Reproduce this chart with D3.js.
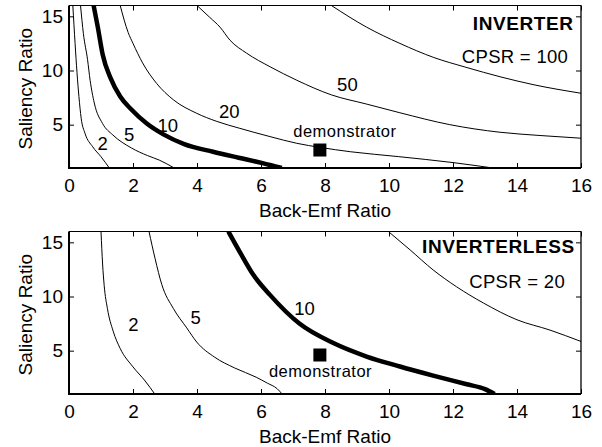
<!DOCTYPE html>
<html>
<head>
<meta charset="utf-8">
<script src="https://cdn.jsdelivr.net/npm/d3@7"></script>
<style>
  body { margin: 0; background: #fff; }
  svg { display: block; font-family: "Liberation Sans", Arial, Helvetica, sans-serif; }
  .axis text { font-size: 19px; fill: #000; }
  .axis line { stroke: #000; stroke-width: 1; }
  .axis path { display: none; }
  .curve { fill: none; stroke: #000; stroke-width: 1; }
  .curve.thick { stroke-width: 4.5; }
  .axis-title { font-size: 19px; text-anchor: middle; }
  .level { font-size: 18.5px; text-anchor: middle; }
  .mode { font-size: 19px; font-weight: bold; text-anchor: end; letter-spacing: 0.6px; }
  .cpsr { font-size: 18.5px; text-anchor: end; letter-spacing: 0.3px; }
  .demo-text { font-size: 16.5px; text-anchor: middle; letter-spacing: 0.5px; }
</style>
</head>
<body>
<svg width="602" height="447"></svg>
<script>
const w = 602, h = 447;
const plotL = 69, plotR = 581, plotT = 5.5, plotB = 168, shift = 226;

const xTicks = [0, 2, 4, 6, 8, 10, 12, 14, 16];
const yTicks = [5, 10, 15];

// contour levels (CPSR), the 10 line is drawn thick
const invLevels = ["2", "5", "10", "20", "50", "100"];
const lessLevels = ["2", "5", "10", "20"];

// INVERTER panel contours: [back-emf ratio, saliency ratio]
const inv2 = [[0.12,16],[0.19,12.5],[0.25,9.8],[0.31,7.6],[0.38,5.6],[0.5,4.2],[0.74,2.96],[1.0,2.04],[1.26,1.0]];
const inv5 = [[0.36,16],[0.45,13.4],[0.58,11],[0.66,9.1],[0.79,7.0],[1.05,5.1],[1.37,4.05],[1.95,2.85],[2.45,2.15],[2.82,1.73],[3.29,1.0]];
const inv10 = [[0.77,16],[0.9,14],[1.05,11.5],[1.3,9.3],[1.6,7.6],[1.95,6.4],[2.43,5.1],[2.95,4.1],[3.6,3.2],[4.5,2.5],[5.3,1.95],[6.05,1.45],[6.45,1.15],[6.65,1.0]];
const inv20 = [[1.6,16],[1.85,13.5],[2.0,12.5],[2.3,10.7],[2.74,8.8],[3.26,7.3],[3.99,6.05],[4.62,5.3],[5.34,4.66],[6.28,3.9],[7.12,3.28],[7.85,2.9],[8.8,2.5],[10.3,2.05],[12,1.5],[13.25,1.0]];
const inv50 = [[4.0,16],[4.4,14.9],[4.72,14.0],[5.03,12.8],[5.55,11.6],[6.28,10.35],[7.12,9.1],[8.2,7.75],[9.3,6.9],[10.34,6.1],[11.9,5.0],[13.47,4.3],[14.72,4.0],[16,3.75]];
const inv100 = [[8.2,16],[9.3,14.0],[10.34,12.5],[11.4,11.2],[12.4,10.3],[13.5,9.4],[14.5,8.7],[16,7.9]];

// INVERTERLESS panel contours
const less2 = [[1.0,16],[1.05,13],[1.1,11],[1.2,8.9],[1.38,6.8],[1.6,5.2],[2.0,3.5],[2.38,2.2],[2.68,1.0]];
const less5 = [[2.5,16],[2.69,13.5],[2.9,11.1],[3.26,8.9],[3.68,7.1],[3.99,5.8],[4.55,4.4],[5.18,3.4],[5.85,2.55],[6.2,2.0],[6.5,1.5],[6.66,1.0]];
const less10 = [[4.98,16],[5.34,14.1],[5.76,12.0],[6.28,10.15],[7.2,7.5],[8.26,5.7],[9.3,4.46],[10.34,3.54],[11.38,2.7],[12.43,1.9],[13.0,1.45],[13.3,1.0]];
const less20 = [[9.98,16],[10.66,14.3],[11.38,12.45],[12.11,10.9],[12.95,9.4],[14.0,7.85],[15.03,6.9],[16,5.85]];

// where the level numbers sit (data units)
const invLabelAt = [[1.05,3.24],[1.88,4.05],[3.09,4.92],[5.01,6.24],[8.70,8.71]];
const lessLabelAt = [[2.01,7.44],[3.96,8.02],[7.36,8.91]];

// demonstrator machine
const invDemo = [7.84, 2.66], invDemoText = [8.62, 3.83];
const lessDemo = [7.84, 4.6], lessDemoText = [7.86, 2.6];

// panel titles, anchored at their right end
const invTitles = [["INVERTER", 15.77, 13.74], ["CPSR = 100", 15.6, 10.72]];
const lessTitles = [["INVERTERLESS", 15.81, 13.99], ["CPSR = 20", 15.5, 10.76]];

const scaleX = d3.scaleLinear().domain([0, 16]).range([plotL, plotR]);
const scaleY = d3.scaleLinear().domain([1, 16]).range([plotB, plotT]);

const line = d3.line()
        .x(d => scaleX(d[0]))
        .y(d => scaleY(d[1]))
        .curve(d3.curveMonotoneX);

const svg = d3.select("svg");

drawPanel(0, "inv", [inv2, inv5, inv10, inv20, inv50, inv100], invLevels,
        invLabelAt, invDemo, invDemoText, invTitles);
drawPanel(shift, "less", [less2, less5, less10, less20], lessLevels,
        lessLabelAt, lessDemo, lessDemoText, lessTitles);

function drawPanel(dy, id, curves, levels, labelAt, demo, demoText, titles) {
    const g = svg.append("g").attr("transform", `translate(0,${dy})`);

    g.append("clipPath").attr("id", "clip-" + id)
        .append("rect")
        .attr("x", plotL).attr("y", plotT)
        .attr("width", plotR - plotL).attr("height", plotB - plotT);

    // ticks point inwards on all four sides
    g.append("g").attr("class", "axis")
        .attr("transform", `translate(0,${plotB})`)
        .call(d3.axisBottom(scaleX).tickValues(xTicks).tickSize(-5).tickPadding(11));
    g.append("g").attr("class", "axis")
        .attr("transform", `translate(0,${plotT})`)
        .call(d3.axisTop(scaleX).tickValues(xTicks).tickSize(-5).tickFormat(""));
    g.append("g").attr("class", "axis")
        .attr("transform", `translate(${plotL},0)`)
        .call(d3.axisLeft(scaleY).tickValues(yTicks).tickSize(-5).tickPadding(6));
    g.append("g").attr("class", "axis")
        .attr("transform", `translate(${plotR},0)`)
        .call(d3.axisRight(scaleY).tickValues(yTicks).tickSize(-5).tickFormat(""));

    // frame, left and bottom edge a bit heavier
    g.append("line").attr("x1", plotL).attr("x2", plotR).attr("y1", plotT).attr("y2", plotT)
        .attr("stroke", "#000").attr("stroke-width", 1);
    g.append("line").attr("x1", plotR).attr("x2", plotR).attr("y1", plotT).attr("y2", plotB)
        .attr("stroke", "#000").attr("stroke-width", 1.3);
    g.append("line").attr("x1", plotL).attr("x2", plotL).attr("y1", plotT).attr("y2", plotB + 1)
        .attr("stroke", "#000").attr("stroke-width", 2);
    g.append("line").attr("x1", plotL - 1).attr("x2", plotR).attr("y1", plotB).attr("y2", plotB)
        .attr("stroke", "#000").attr("stroke-width", 2);

    g.append("g").attr("clip-path", `url(#clip-${id})`)
        .selectAll("path.curve")
        .data(curves)
        .join("path")
        .attr("class", (d, i) => levels[i] === "10" ? "curve thick" : "curve")
        .attr("d", line);

    g.selectAll("text.level")
        .data(labelAt)
        .join("text").attr("class", "level")
        .attr("x", d => scaleX(d[0]))
        .attr("y", d => scaleY(d[1]))
        .attr("dy", "0.35em")
        .text((d, i) => levels[i]);

    g.append("rect")
        .attr("x", scaleX(demo[0]) - 6.5)
        .attr("y", scaleY(demo[1]) - 6.5)
        .attr("width", 13).attr("height", 13)
        .attr("fill", "#000");
    g.append("text").attr("class", "demo-text")
        .attr("x", scaleX(demoText[0]))
        .attr("y", scaleY(demoText[1]))
        .text("demonstrator");

    g.selectAll("text.note")
        .data(titles)
        .join("text")
        .attr("class", (d, i) => i === 0 ? "note mode" : "note cpsr")
        .attr("x", d => scaleX(d[1]))
        .attr("y", d => scaleY(d[2]))
        .text(d => d[0]);

    g.append("text").attr("class", "axis-title")
        .attr("x", (plotL + plotR) / 2)
        .attr("y", 216.7)
        .text("Back-Emf Ratio");
    g.append("text").attr("class", "axis-title")
        .attr("transform", `translate(31.5,${(plotT + plotB) / 2 + 2}) rotate(-90)`)
        .text("Saliency Ratio");
}
</script>
</body>
</html>
